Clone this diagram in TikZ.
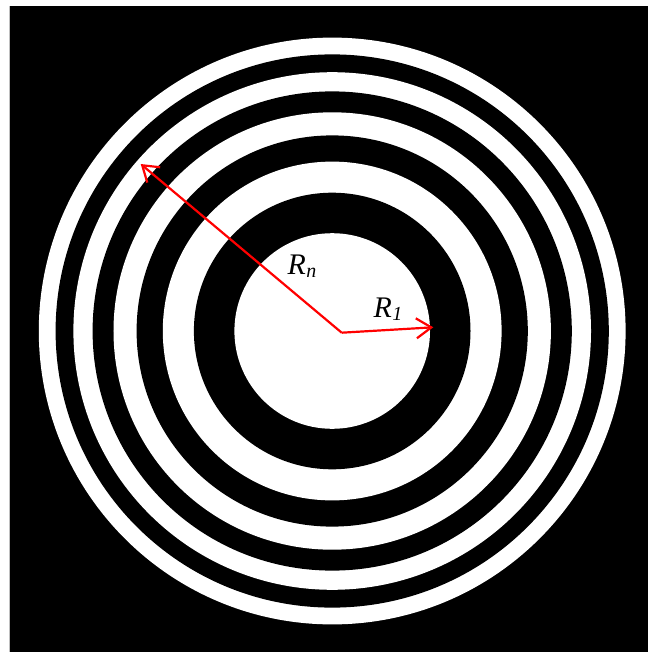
\documentclass[tikz,border=0pt]{standalone}
\usepackage{fontspec}
\setmainfont{Liberation Serif}
\usetikzlibrary{arrows.meta}
\newcommand{\Rsub}[1]{\textit{R}\kern0.3bp\raisebox{-3bp}{\fontsize{20}{20}\selectfont\textit{#1}}}
\tikzset{
  radarrow/.style={draw=red, line width=2.2bp, line join=round,
    -{Straight Barb[length=15bp,width=20bp,line width=2.2bp]}},
  radlabel/.style={anchor=base west, inner sep=0pt, font=\fontsize{30}{32}\selectfont}
}
\begin{document}
\begin{tikzpicture}[x=1bp,y=-1bp]
\useasboundingbox (0,0) rectangle (648,652);
\fill[white] (0,0) rectangle (648,652);
\fill[black!25] (8.5,6) rectangle (9.5,652);
\fill[black] (9.5,6) rectangle (648,652);
\coordinate (C) at (332.2,331);
\foreach \r/\c in {293.4/white,276.6/black,258.8/white,239.6/black,218.7/white,195.6/black,169.4/white,138.3/black,97.8/white}
  \fill[\c] (C) circle[radius=\r bp];
\coordinate (O) at (341.7,332.7);
\coordinate (A1) at (433.3,327.3);
\coordinate (An) at (140.7,164);
\draw[radarrow] (O) -- (A1);
\draw[radarrow] (O) -- (An);
\node[radlabel] (Ln) at (287.5,274.5) {\Rsub{n}};
\node[radlabel] (L1) at (373.5,317.5) {\Rsub{1}};
\end{tikzpicture}
\end{document}
